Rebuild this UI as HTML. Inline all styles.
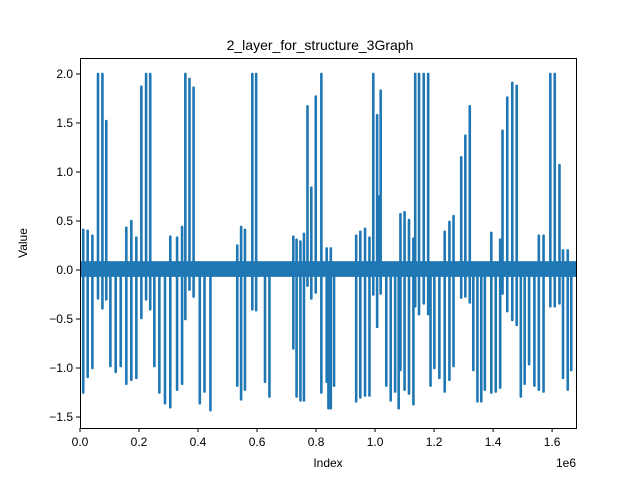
<!DOCTYPE html>
<html><head><meta charset="utf-8"><style>
body{margin:0;background:#fff;}
svg{display:block;font-family:"Liberation Sans","DejaVu Sans",sans-serif;}
</style></head><body>
<svg id="chart" width="640" height="480">
<rect width="640" height="480" fill="#fff"/>
<text x="320" y="50" text-anchor="middle" font-size="14">2_layer_for_structure_3Graph</text>
<g id="plot"></g>
<rect x="80.5" y="58.5" width="496" height="370" fill="none" stroke="#000" stroke-width="1"/>
<g id="xt"></g>
<g id="yt"></g>
<text x="328" y="467" text-anchor="middle" font-size="12">Index</text>
<text x="27" y="243" text-anchor="middle" font-size="12" transform="rotate(-90 27 243)">Value</text>
<text x="576" y="467" text-anchor="end" font-size="12">1e6</text>
</svg>
<script>
const posIdx=[0.011,0.026,0.042,0.061,0.076,0.089,0.157,0.174,0.191,0.208,0.224,0.238,0.306,0.329,0.346,0.357,0.371,0.385,0.533,0.546,0.559,0.584,0.597,0.723,0.734,0.747,0.759,0.771,0.784,0.799,0.818,0.836,0.850,0.936,0.950,0.966,0.981,0.994,1.007,1.014,1.019,1.086,1.100,1.115,1.130,1.136,1.149,1.165,1.180,1.236,1.252,1.266,1.292,1.306,1.321,1.394,1.424,1.432,1.448,1.465,1.480,1.555,1.571,1.594,1.609,1.625,1.637,1.653];
const posVal=[0.41,0.40,0.35,2.0,2.0,1.52,0.43,0.50,0.33,1.87,2.0,2.0,0.34,0.33,0.44,2.0,1.95,1.86,0.25,0.44,0.41,2.0,2.0,0.34,0.31,0.29,0.37,1.67,0.84,1.77,2.0,0.22,0.22,0.35,0.39,0.42,0.33,2.0,1.58,0.75,1.83,0.57,0.59,0.51,0.32,2.0,2.0,2.0,2.0,0.39,0.49,0.55,1.15,1.37,1.67,0.38,0.31,1.42,1.76,1.91,1.88,0.35,0.35,2.0,2.0,1.07,0.2,0.2];
const negIdx=[0.011,0.026,0.042,0.061,0.076,0.089,0.103,0.121,0.138,0.157,0.174,0.191,0.208,0.224,0.238,0.252,0.269,0.288,0.306,0.329,0.346,0.357,0.371,0.385,0.406,0.422,0.442,0.533,0.546,0.559,0.584,0.597,0.627,0.642,0.723,0.734,0.747,0.759,0.771,0.784,0.799,0.818,0.836,0.842,0.850,0.861,0.936,0.950,0.966,0.981,0.994,1.007,1.019,1.038,1.053,1.068,1.080,1.086,1.100,1.115,1.130,1.136,1.149,1.165,1.180,1.188,1.201,1.218,1.236,1.252,1.266,1.292,1.306,1.321,1.333,1.347,1.360,1.372,1.394,1.409,1.424,1.432,1.448,1.465,1.480,1.494,1.507,1.522,1.540,1.555,1.571,1.594,1.609,1.625,1.637,1.653,1.665];
const negVal=[-1.25,-1.09,-1.0,-0.29,-0.39,-0.3,-0.98,-1.04,-0.98,-1.16,-1.12,-1.1,-0.49,-0.3,-0.4,-0.98,-1.25,-1.36,-1.4,-1.22,-1.16,-0.5,-0.2,-0.27,-1.36,-1.24,-1.43,-1.18,-1.32,-1.22,-0.4,-0.41,-1.14,-1.29,-0.8,-1.29,-1.33,-1.33,-0.16,-0.29,-0.23,-1.25,-1.14,-1.41,-1.41,-1.18,-1.34,-1.3,-1.28,-1.28,-0.25,-0.58,-0.24,-1.18,-1.33,-1.24,-1.41,-1.02,-1.22,-1.26,-1.37,-0.37,-0.45,-0.34,-0.45,-1.18,-1.0,-1.1,-1.24,-1.12,-0.98,-0.28,-0.27,-0.33,-1.02,-1.34,-1.34,-1.22,-1.25,-1.24,-1.2,-0.24,-0.42,-0.51,-0.56,-1.29,-1.16,-0.96,-1.18,-1.22,-1.24,-0.37,-0.37,-0.34,-1.1,-1.22,-1.02];
const xTicks=[0,0.2,0.4,0.6,0.8,1.0,1.2,1.4,1.6];
const xTickLabels=["0.0","0.2","0.4","0.6","0.8","1.0","1.2","1.4","1.6"];
const yTicks=[-1.5,-1.0,-0.5,0.0,0.5,1.0,1.5,2.0];
const yTickLabels=["−1.5","−1.0","−0.5","0.0","0.5","1.0","1.5","2.0"];
const bandTop=0.09, bandBot=-0.07;

const NS="http://www.w3.org/2000/svg";
const X0=80,X1=576,Y0=58,Y1=428,XMIN=0,XMAX=1.681,YMIN=-1.612,YMAX=2.163;
const sx=v=>X0+(v-XMIN)/(XMAX-XMIN)*(X1-X0);
const sy=v=>Y1-(v-YMIN)/(YMAX-YMIN)*(Y1-Y0);
const plot=document.getElementById('plot');
const C="#1f77b4";
function mk(t,a,p){const e=document.createElementNS(NS,t);for(const k in a)e.setAttribute(k,a[k]);p.appendChild(e);return e;}
const band=mk('rect',{x:sx(0),y:sy(bandTop),width:sx(XMAX)-sx(0),height:sy(bandBot)-sy(bandTop),fill:C},plot);


posIdx.forEach((v,i)=>{
  const l=mk('line',{x1:sx(v),x2:sx(v),y1:sy(0),y2:sy(posVal[i]),stroke:C,'stroke-width':2.6,'stroke-linecap':'round'},plot);
  
  
});
negIdx.forEach((v,i)=>{
  const l=mk('line',{x1:sx(v),x2:sx(v),y1:sy(0),y2:sy(negVal[i]),stroke:C,'stroke-width':2.6,'stroke-linecap':'round'},plot);
  
  
});
const xt=document.getElementById('xt');
xTicks.forEach((v,i)=>{
  const x=sx(v);
  const t=mk('line',{x1:x,x2:x,y1:Y1,y2:Y1+4,stroke:'#000'},xt);
  
  
  const s=mk('text',{x:x,y:Y1+18,'text-anchor':'middle','font-size':12},xt);
  s.textContent=xTickLabels[i];
  
  
});
const yt=document.getElementById('yt');
yTicks.forEach((v,i)=>{
  const y=sy(v);
  const t=mk('line',{x1:X0-4,x2:X0,y1:y,y2:y,stroke:'#000'},yt);
  
  
  const s=mk('text',{x:X0-7,y:y+4,'text-anchor':'end','font-size':12},yt);
  s.textContent=yTickLabels[i];
  
  
});
</script>
</body></html>
